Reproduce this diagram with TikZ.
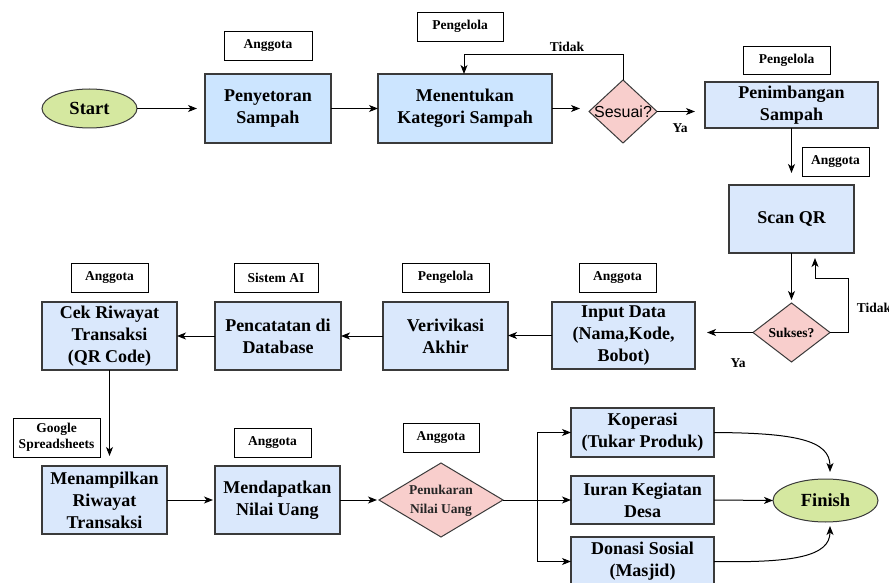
\documentclass[tikz,border=0pt]{standalone}
\usepackage{fontspec}
\setmainfont{Liberation Serif}
\newfontfamily\arialf{Liberation Sans}
\usetikzlibrary{shapes.geometric,arrows.meta,calc}
\definecolor{boxA}{HTML}{CCE5FF}
\definecolor{boxB}{HTML}{DAE8FC}
\definecolor{greenF}{HTML}{D5E8A0}
\definecolor{pinkF}{HTML}{F8CECC}
\definecolor{edgeC}{HTML}{3A3A3A}
\begin{document}
\begin{tikzpicture}[x=1pt,y=-1pt,
  every node/.style={inner sep=0pt, outer sep=0pt},
  proc/.style={draw=edgeC, line width=1.1pt, fill=boxB, align=center,
    font=\bfseries\fontsize{18}{22}\selectfont},
  lab/.style={draw=black, line width=0.9pt, fill=white, align=center,
    font=\bfseries\fontsize{13.5}{17}\selectfont},
  term/.style={ellipse, draw=edgeC, line width=1pt, fill=greenF,
    font=\bfseries\fontsize{18.5}{22}\selectfont},
  dec/.style={diamond, draw=edgeC, line width=1pt, fill=pinkF, align=center},
  elab/.style={font=\bfseries\fontsize{13.5}{16}\selectfont},
  arr/.style={draw=black, line width=1pt, -{Stealth[length=9pt,width=7pt,inset=2.5pt]}},
  ln/.style={draw=black, line width=1pt}]
\useasboundingbox (0,0) rectangle (889,583);
\fill[white] (0,0) rectangle (889,583);
% top row
\node[term, minimum width=95pt, minimum height=39pt] (start) at (89.5,108.5) {Start};
\node[lab, minimum width=88pt, minimum height=29pt] (l1) at (268,45.5) {Anggota};
\node[proc, fill=boxA, minimum width=126pt, minimum height=69pt] (p1) at (268,108.5) {Penyetoran\\Sampah};
\node[lab, minimum width=86pt, minimum height=29pt] (l2) at (460,26.5) {Pengelola};
\node[proc, fill=boxA, minimum width=174pt, minimum height=69pt] (p2) at (465,108.5) {Menentukan\\Kategori Sampah};
\node[dec, minimum width=68pt, minimum height=63pt, font=\arialf\fontsize{16}{18}\selectfont] (d1) at (623,111.5) {};
\node[font=\arialf\fontsize{16}{18}\selectfont] (d1t) at (623,111.5) {Sesuai?};
\node[lab, minimum width=87pt, minimum height=28pt] (l3) at (786.5,60) {Pengelola};
\node[proc, minimum width=173pt, minimum height=46pt] (p3) at (791.5,105) {Penimbangan\\Sampah};
\node[lab, minimum width=67pt, minimum height=29pt] (l4) at (835.5,161.5) {Anggota};
\node[proc, minimum width=125pt, minimum height=68pt] (p4) at (791.5,219) {Scan QR};
\node[dec, minimum width=77pt, minimum height=59pt] (d2) at (791.5,332.5) {};
\node[font=\bfseries\fontsize{13.5}{16}\selectfont] (d2t) at (791.5,332.5) {Sukses?};
% middle row
\node[proc, minimum width=143pt, minimum height=67pt] (p5) at (623.5,335.5) {Input Data\\(Nama,Kode,\\Bobot)};
\node[lab, minimum width=77pt, minimum height=29pt] (l5) at (617.5,277.5) {Anggota};
\node[proc, minimum width=125pt, minimum height=68pt] (p6) at (445.5,336) {Verivikasi\\Akhir};
\node[lab, minimum width=87pt, minimum height=29pt] (l6) at (445.5,277.5) {Pengelola};
\node[proc, minimum width=126pt, minimum height=68pt] (p7) at (278,336) {Pencatatan di\\Database};
\node[lab, minimum width=84pt, minimum height=29pt] (l7) at (276,277.5) {Sistem AI};
\node[proc, minimum width=135pt, minimum height=68pt] (p8) at (109.5,336) {Cek Riwayat\\Transaksi\\(QR Code)};
\node[lab, minimum width=77pt, minimum height=29pt] (l8) at (109.5,277.5) {Anggota};
% bottom row
\node[lab, minimum width=87pt, minimum height=39pt, font=\bfseries\fontsize{13.5}{16.5}\selectfont] (l9) at (56.5,437.5) {Google\\Spreadsheets};
\node[proc, minimum width=125pt, minimum height=68pt] (p9) at (104.5,500) {Menampilkan\\Riwayat\\Transaksi};
\node[proc, minimum width=125pt, minimum height=68pt] (p10) at (277.5,500) {Mendapatkan\\Nilai Uang};
\node[lab, minimum width=77pt, minimum height=29pt] (l10) at (272.5,442.5) {Anggota};
\node[dec, minimum width=124pt, minimum height=74pt] (d3) at (441,500) {};
\node[align=center, text=black!85, font=\bfseries\fontsize{13.5}{19}\selectfont] (d3t) at (441,501) {Penukaran\\Nilai Uang};
\node[lab, minimum width=76pt, minimum height=29pt] (l11) at (441,437.5) {Anggota};
\node[proc, minimum width=143pt, minimum height=49pt] (p11) at (642.5,432.5) {Koperasi\\(Tukar Produk)};
\node[proc, minimum width=143pt, minimum height=48pt] (p12) at (642.5,500) {Iuran Kegiatan\\Desa};
\node[proc, minimum width=143pt, minimum height=49pt] (p13) at (642.5,561.5) {Donasi Sosial\\(Masjid)};
\node[term, minimum width=105pt, minimum height=43pt] (finish) at (825.5,500.5) {Finish};
% helper coordinates
\coordinate (ytop) at (0,55);
\coordinate (r1) at (848,278);
\coordinate (split) at (537,500);
% connectors top
\draw[arr, shorten >=8pt] (start.east) -- (p1.west |- start.east);
\draw[arr] (p1.east) -- (p2.west);
\draw[arr, shorten >=9pt] (p2.east) -- (p2.east -| d1.west);
\draw[arr, shorten >=10pt] (d1.east) -- (d1.east -| p3.west);
\draw[arr] (d1.north) -- (d1.north |- ytop) -| ([xshift=-1pt]p2.north);
\node[elab] (t1) at (567,47) {Tidak};
\node[elab] (y1) at (680,128) {Ya};
\draw[arr, shorten >=12pt] (p3.south) -- (p4.north);
\draw[arr, shorten >=3pt] (p4.south) -- (d2.north);
\draw[arr, shorten >=5pt] (d2.east) -| (r1) -| ([xshift=23.5pt]p4.south);
\node[elab] (t2) at (874,308) {Tidak};
\node[elab] (y2) at (738,363) {Ya};
\draw[arr, shorten >=12pt] (d2.west) -- (d2.west -| p5.east);
% middle connectors
\draw[arr] (p5.west) -- (p5.west -| p6.east);
\draw[arr] (p6.west) -- (p6.west -| p7.east);
\draw[arr] (p7.west) -- (p7.west -| p8.east);
\draw[arr, shorten >=10pt] (p8.south) -- (p8.south |- p9.north);
% bottom connectors
\draw[arr, shorten >=2pt] (p9.east) -- (p10.west);
\draw[arr, shorten >=2pt] (p10.east) -- (d3.west);
\draw[ln] (d3.east) -- (split);
\draw[arr] (split) |- (p11.west);
\draw[arr] (split) -- (p12.west);
\draw[arr] (split) |- (p13.west);
\draw[arr] (p12.east) -- (finish.west);
\draw[arr, shorten >=7pt] (p11.east) .. controls (795,433) and (830,440) .. (830,479);
\draw[arr, shorten >=4pt] (p13.east) .. controls (795,563) and (830,556) .. (830,522);
\end{tikzpicture}
\end{document}
